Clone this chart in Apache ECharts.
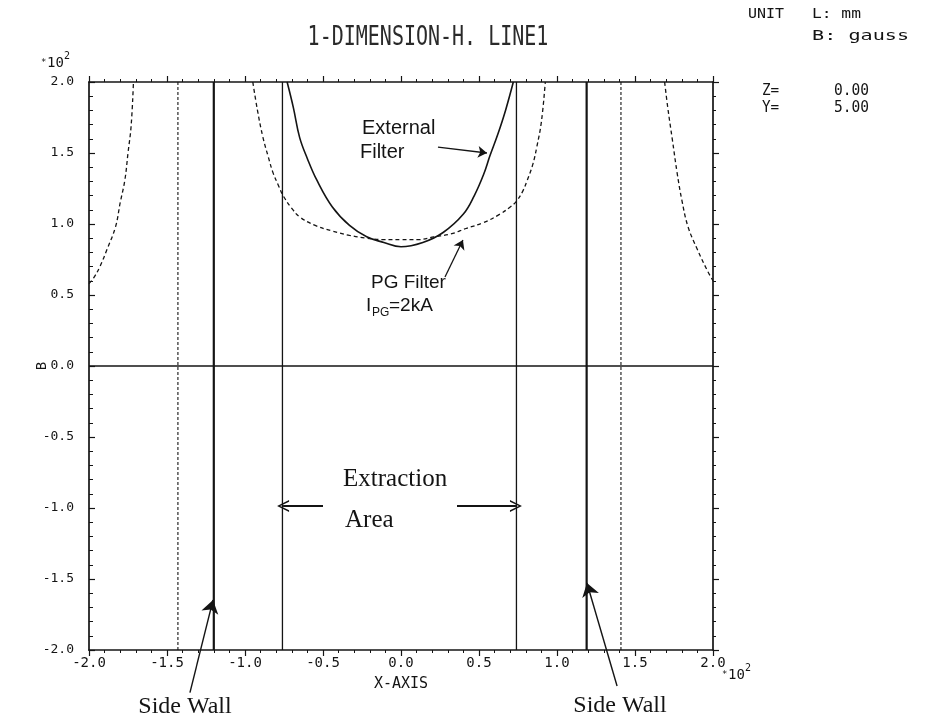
<!DOCTYPE html>
<html><head><meta charset="utf-8">
<script src="https://cdn.jsdelivr.net/npm/echarts@6/dist/echarts.min.js"></script>
<style>html,body{margin:0;padding:0;background:#fff}#c{width:928px;height:724px}</style>
</head><body><div id="c"></div>
<script>
// ---- data (x in units of 10^2 mm, B in units of 10^2 gauss) ----
const xTickLabels = ['-2.0','-1.5','-1.0','-0.5','0.0','0.5','1.0','1.5','2.0'];
const yTickLabels = ['-2.0','-1.5','-1.0','-0.5','0.0','0.5','1.0','1.5','2.0'];

const externalX = [-0.73,-0.69,-0.65,-0.60,-0.54,-0.44,-0.33,-0.22,-0.11,0.00,0.14,0.27,0.40,0.47,0.53,0.57,0.62,0.67,0.72];
const externalB = [ 2.00, 1.82, 1.61, 1.46, 1.31, 1.12, 0.99, 0.91, 0.87,0.84,0.87,0.94,1.07,1.20,1.35,1.48,1.63,1.80,2.00];

const pgCenterX = [-0.95,-0.92,-0.885,-0.85,-0.82,-0.785,-0.756,-0.70,-0.65,-0.55,-0.44,-0.33,-0.22,-0.11,0.00,0.11,0.21,0.32,0.42,0.53,0.635,0.70,0.74,0.78,0.81,0.845,0.87,0.90,0.925];
const pgCenterB = [ 2.00, 1.80, 1.61, 1.47, 1.36, 1.27, 1.20, 1.11, 1.05, 0.99, 0.95, 0.92, 0.90, 0.89,0.89,0.89,0.91,0.93,0.97,1.01,1.07,1.12,1.16,1.23,1.31,1.42,1.54,1.72,2.00];

const pgLeftX = [-2.00,-1.97,-1.93,-1.885,-1.83,-1.80,-1.77,-1.75,-1.73,-1.715];
const pgLeftB = [ 0.58, 0.62, 0.70, 0.82, 0.98, 1.15, 1.31, 1.50, 1.69, 2.00];
const pgRightX = [1.69,1.71,1.74,1.77,1.80,1.84,1.90,1.96,2.00];
const pgRightB = [2.00,1.82,1.59,1.36,1.17,0.98,0.82,0.68,0.60];

const sideWalls = [-1.20, 1.19];
const extractionEdges = [-0.76, 0.74];
const dottedLines = [-1.43, 1.41];

// annotation arrows [tail, tip] in data units
const calloutArrows = [
  [[0.237, 1.542], [0.551, 1.50]],
  [[0.282, 0.627], [0.397, 0.887]]
];
const extractionArrows = [
  [[-0.50, -0.986], [-0.756, -0.986]],
  [[0.359, -0.986], [0.737, -0.986]]
];
const wallArrows = [
  [[-1.353, -2.30], [-1.205, -1.648]],
  [[1.385, -2.254], [1.192, -1.528]]
];

// ---- chart ----
const INK = '#141414';
const MONO = '"DejaVu Sans Mono", monospace';
const pairs = (xs, ys) => xs.map((x, i) => [x, ys[i]]);
const curve = (xs, ys, dashed, width) => ({
  type: 'line', data: pairs(xs, ys), symbol: 'none', smooth: 0.4,
  lineStyle: { color: INK, width: width, type: dashed ? [4, 3] : 'solid' }, silent: true, z: 4
});
const vline = (x, width, type) => ({
  type: 'line', data: [[x, -2], [x, 2]], symbol: 'none',
  lineStyle: { color: INK, width: width, type: type }, silent: true, z: 3
});
const arrowSeries = (list, symbol, size, width) => ({
  type: 'lines', coordinateSystem: 'cartesian2d', clip: false, silent: true, z: 6,
  symbol: ['none', symbol], symbolSize: size,
  lineStyle: { color: INK, width: width, opacity: 1, curveness: 0 },
  itemStyle: { color: INK },
  data: list.map(a => ({ coords: a }))
});

const axisCommon = () => ({
  type: 'value', min: -2, max: 2, interval: 0.5,
  axisLine: { show: true, onZero: false, lineStyle: { color: INK, width: 1.7 } },
  axisTick: { show: true, length: 6, lineStyle: { color: INK, width: 1.2 } },
  minorTick: { show: true, splitNumber: 5, length: 3, lineStyle: { color: INK, width: 1 } },
  splitLine: { show: false },
  axisLabel: { show: false }
});

const xBottom = Object.assign(axisCommon(), {
  position: 'bottom',
  axisLabel: { show: true, margin: 6, color: INK, fontFamily: MONO, fontSize: 14,
    formatter: v => xTickLabels[Math.round((v + 2) / 0.5)] },
  name: 'X-AXIS', nameLocation: 'middle', nameGap: 27,
  nameTextStyle: { color: INK, fontFamily: MONO, fontSize: 15 }
});
const xTop = Object.assign(axisCommon(), { position: 'top' });
const yLeft = Object.assign(axisCommon(), {
  position: 'left',
  axisTick: { show: true, inside: true, length: 6, lineStyle: { color: INK, width: 1.2 } },
  minorTick: { show: true, splitNumber: 5, length: 4, lineStyle: { color: INK, width: 1 } },
  axisLabel: { show: true, margin: 15, color: INK, fontFamily: MONO, fontSize: 13,
    formatter: v => yTickLabels[Math.round((v + 2) / 0.5)] },
  name: 'B', nameLocation: 'middle', nameGap: 40, nameRotate: 90, nameMoveOverlap: false,
  nameTextStyle: { color: INK, fontFamily: MONO, fontSize: 14 }
});
const yRight = Object.assign(axisCommon(), { position: 'right' });

const txt = (text, x, y, font, opts) => Object.assign({
  type: 'text', x: x, y: y, silent: true, z: 10,
  style: Object.assign({ text: text, font: font, fill: INK,
    align: 'left', verticalAlign: 'middle', textAlign: 'left', textVerticalAlign: 'middle' }, (opts && opts.style) || {})
}, (opts && opts.el) || {});

const SANS = '"Liberation Sans", Arial, sans-serif';
const SERIF = '"Liberation Serif", "Times New Roman", serif';
const centered = { align: 'center', textAlign: 'center' };

const graphics = [
  txt('1-DIMENSION-H. LINE1', 428, 38, '20px ' + MONO, { style: Object.assign({ fill: '#2a2a2a' }, centered), el: { scaleY: 1.35 } }),
  txt('UNIT', 748, 14, '13px ' + MONO, { el: { scaleX: 1.15, scaleY: 1.1 } }),
  txt('L: mm', 812, 14, '13px ' + MONO, { el: { scaleX: 1.25, scaleY: 1.1 } }),
  txt('B: gauss', 812, 36, '13px ' + MONO, { el: { scaleX: 1.55, scaleY: 1.1 } }),
  txt('Z=', 762, 91, '13px ' + MONO, { el: { scaleX: 1.1, scaleY: 1.15 } }),
  txt('0.00', 834, 91, '13px ' + MONO, { el: { scaleX: 1.12, scaleY: 1.15 } }),
  txt('Y=', 762, 108, '13px ' + MONO, { el: { scaleX: 1.1, scaleY: 1.15 } }),
  txt('5.00', 834, 108, '13px ' + MONO, { el: { scaleX: 1.12, scaleY: 1.15 } }),
  // x10^2 multipliers
  txt('*', 41, 63, '9px ' + MONO),
  txt('10', 47, 63, '14px ' + MONO),
  txt('2', 64, 56, '10px ' + MONO),
  txt('*', 722, 675, '9px ' + MONO),
  txt('10', 728, 675, '14px ' + MONO),
  txt('2', 745, 668, '10px ' + MONO),
  // annotations
  txt('External', 362, 128, '20px ' + SANS),
  txt('Filter', 360, 152, '20px ' + SANS),
  txt('PG Filter', 371, 283, '19px ' + SANS),
  txt('I', 366, 306, '19px ' + SANS),
  txt('PG', 372, 313, '12px ' + SANS),
  txt('=2kA', 389, 306, '19px ' + SANS),
  txt('Extraction', 343, 479, '25px ' + SERIF),
  txt('Area', 345, 520, '25px ' + SERIF),
  txt('Side Wall', 185, 707, '24px ' + SERIF, { style: centered }),
  txt('Side Wall', 620, 706, '24px ' + SERIF, { style: centered })
];

const series = [
  curve(externalX, externalB, false, 1.6),
  curve(pgCenterX, pgCenterB, true, 1.3),
  curve(pgLeftX, pgLeftB, true, 1.3),
  curve(pgRightX, pgRightB, true, 1.3),
  { type: 'line', data: [[-2, 0], [2, 0]], symbol: 'none', silent: true, z: 3,
    lineStyle: { color: INK, width: 1.6 } },
  ...sideWalls.map(x => vline(x, 2.2, 'solid')),
  ...extractionEdges.map(x => vline(x, 1.3, 'solid')),
  ...dottedLines.map(x => vline(x, 1.1, [3, 2])),
  arrowSeries(calloutArrows, 'arrow', 9, 1.3),
  arrowSeries(extractionArrows, 'path://M0,10 L5,0 L10,10 L8.6,10 L5,2.6 L1.4,10 Z', 12, 2),
  arrowSeries(wallArrows, 'arrow', 13, 1.4)
];

const chart = echarts.init(document.getElementById('c'));
chart.setOption({
  animation: false,
  backgroundColor: '#ffffff',
  grid: { left: 89, right: 215, top: 82, bottom: 74, containLabel: false },
  xAxis: [xBottom, xTop],
  yAxis: [yLeft, yRight],
  series: series.map(s => Object.assign({ xAxisIndex: 0, yAxisIndex: 0 }, s)),
  graphic: graphics
});
</script></body></html>
